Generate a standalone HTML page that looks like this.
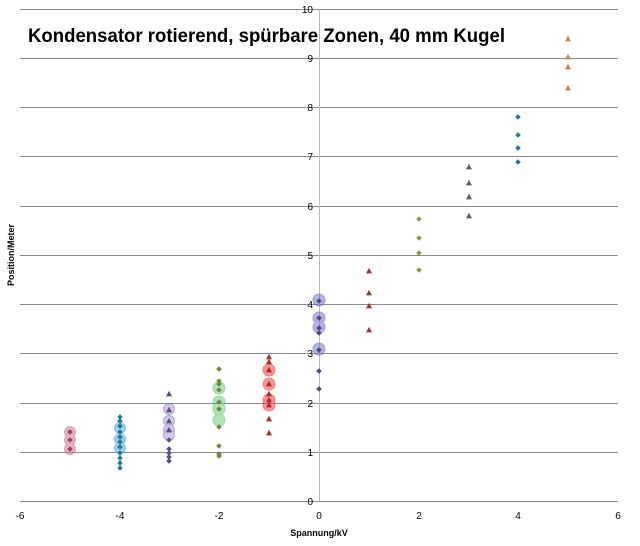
<!DOCTYPE html><html><head><style>body{margin:0;background:#fff}svg{display:block;font-family:"Liberation Sans",sans-serif}</style></head><body>
<svg width="640" height="546" viewBox="0 0 640 546" xmlns="http://www.w3.org/2000/svg">
<g stroke="#8a8a8a" stroke-width="1">
<line x1="20" y1="9.5" x2="618" y2="9.5"/><line x1="20" y1="58.5" x2="618" y2="58.5"/><line x1="20" y1="107.5" x2="618" y2="107.5"/><line x1="20" y1="156.5" x2="618" y2="156.5"/><line x1="20" y1="206.5" x2="618" y2="206.5"/><line x1="20" y1="255.5" x2="618" y2="255.5"/><line x1="20" y1="304.5" x2="618" y2="304.5"/><line x1="20" y1="353.5" x2="618" y2="353.5"/><line x1="20" y1="403.5" x2="618" y2="403.5"/><line x1="20" y1="452.5" x2="618" y2="452.5"/><line x1="20" y1="501.5" x2="618" y2="501.5"/>
</g>
<line x1="319.5" y1="9" x2="319.5" y2="501" stroke="#bbb"/>
<g font-size="10" fill="#000" text-anchor="end">
<text x="313" y="13">10</text><text x="313" y="62">9</text><text x="313" y="111">8</text><text x="313" y="160">7</text><text x="313" y="210">6</text><text x="313" y="259">5</text><text x="313" y="308">4</text><text x="313" y="357">3</text><text x="313" y="407">2</text><text x="313" y="456">1</text><text x="313" y="505">0</text>
</g>
<g font-size="10" text-anchor="middle">
<text x="20" y="519">-6</text><text x="120" y="519">-4</text><text x="219" y="519">-2</text><text x="319" y="519">0</text><text x="419" y="519">2</text><text x="518" y="519">4</text><text x="618" y="519">6</text>
</g>
<text x="319" y="536" font-size="9" font-weight="bold" text-anchor="middle">Spannung/kV</text>
<text transform="translate(14,255) rotate(-90)" font-size="9" font-weight="bold" text-anchor="middle">Position/Meter</text>
<text x="28" y="42" font-size="19" font-weight="bold" textLength="477" lengthAdjust="spacingAndGlyphs">Kondensator rotierend, spürbare Zonen, 40 mm Kugel</text>
<g opacity="0.55">
<g fill="#c87a8c" stroke="#b06478"><circle cx="70" cy="432" r="5.5"/><circle cx="70" cy="440" r="5.5"/><circle cx="70" cy="449" r="5.5"/></g>
<g fill="#4aa8dc" stroke="#3690c8"><circle cx="120" cy="428" r="5.5"/><circle cx="120" cy="439" r="5.5"/><circle cx="120" cy="448" r="5.5"/></g>
<g fill="#b39ad8" stroke="#8064a2"><circle cx="169" cy="409" r="5.5"/><circle cx="169" cy="421" r="5.5"/><circle cx="169" cy="430" r="5.5"/><circle cx="169" cy="435" r="5.5"/></g>
<g fill="#6cd07a" stroke="#50b060"><circle cx="219" cy="388" r="6"/><circle cx="219" cy="402" r="6"/><circle cx="219" cy="409" r="6"/><circle cx="219" cy="420" r="6"/></g>
<g fill="#f04040" stroke="#d02020"><circle cx="269" cy="370" r="6"/><circle cx="269" cy="384" r="6"/><circle cx="269" cy="400" r="6"/><circle cx="269" cy="405" r="6"/></g>
<g fill="#7a70d0" stroke="#5a50b0"><circle cx="319" cy="300" r="6"/><circle cx="319" cy="318" r="6"/><circle cx="319" cy="327" r="6"/><circle cx="319" cy="349" r="6"/></g>
</g>
<defs>
<path id="d" d="M0,-2.8L2.8,0L0,2.8L-2.8,0Z"/>
<path id="t" d="M0,-3.2L3,2.4L-3,2.4Z"/>
</defs>
<g fill="#a04060"><use href="#d" x="70" y="432"/><use href="#d" x="70" y="440"/><use href="#d" x="70" y="449"/></g>
<g fill="#1f7a9a"><use href="#d" x="120" y="417"/><use href="#d" x="120" y="421"/><use href="#d" x="120" y="426"/><use href="#d" x="120" y="432"/><use href="#d" x="120" y="437"/><use href="#d" x="120" y="442"/><use href="#d" x="120" y="447"/><use href="#d" x="120" y="453"/><use href="#d" x="120" y="458"/><use href="#d" x="120" y="463"/><use href="#d" x="120" y="468"/></g>
<g fill="#604a8a"><use href="#t" x="169" y="394"/><use href="#t" x="169" y="410"/><use href="#t" x="169" y="421"/><use href="#t" x="169" y="430"/><use href="#d" x="169" y="440"/><use href="#d" x="169" y="449"/><use href="#d" x="169" y="453"/><use href="#d" x="169" y="457"/><use href="#d" x="169" y="461"/></g>
<g fill="#6e8a3a"><use href="#d" x="219" y="369"/><use href="#d" x="219" y="381"/><use href="#d" x="219" y="384"/><use href="#d" x="219" y="390"/><use href="#d" x="219" y="402"/><use href="#d" x="219" y="409"/><use href="#d" x="219" y="427"/><use href="#d" x="219" y="446"/><use href="#d" x="219" y="454"/><use href="#d" x="219" y="456"/></g>
<g fill="#b02828"><use href="#t" x="269" y="357"/><use href="#t" x="269" y="362"/><use href="#t" x="269" y="370"/><use href="#t" x="269" y="384"/><use href="#t" x="269" y="394"/><use href="#t" x="269" y="400"/><use href="#t" x="269" y="405"/><use href="#t" x="269" y="419"/><use href="#t" x="269" y="433"/></g>
<g fill="#4a4a80"><use href="#d" x="319" y="301"/><use href="#d" x="319" y="318"/><use href="#d" x="319" y="328"/><use href="#d" x="319" y="333"/><use href="#d" x="319" y="350"/><use href="#d" x="319" y="371"/><use href="#d" x="319" y="389"/></g>
<g fill="#a83030"><use href="#t" x="369" y="271"/><use href="#t" x="369" y="293"/><use href="#t" x="369" y="306"/><use href="#t" x="369" y="330"/></g>
<g fill="#8a9a50"><use href="#d" x="419" y="219"/><use href="#d" x="419" y="238"/><use href="#d" x="419" y="253"/><use href="#d" x="419" y="270"/></g>
<g fill="#5a5a7a"><use href="#t" x="469" y="167"/><use href="#t" x="469" y="183"/><use href="#t" x="469" y="197"/><use href="#t" x="469" y="216"/></g>
<g fill="#1f7a9a"><use href="#d" x="518" y="117"/><use href="#d" x="518" y="135"/><use href="#d" x="518" y="148"/><use href="#d" x="518" y="162"/></g>
<g fill="#d08040"><use href="#t" x="568" y="39"/><use href="#t" x="568" y="57"/><use href="#t" x="568" y="67"/><use href="#t" x="568" y="88"/></g>
</svg>
</body></html>
